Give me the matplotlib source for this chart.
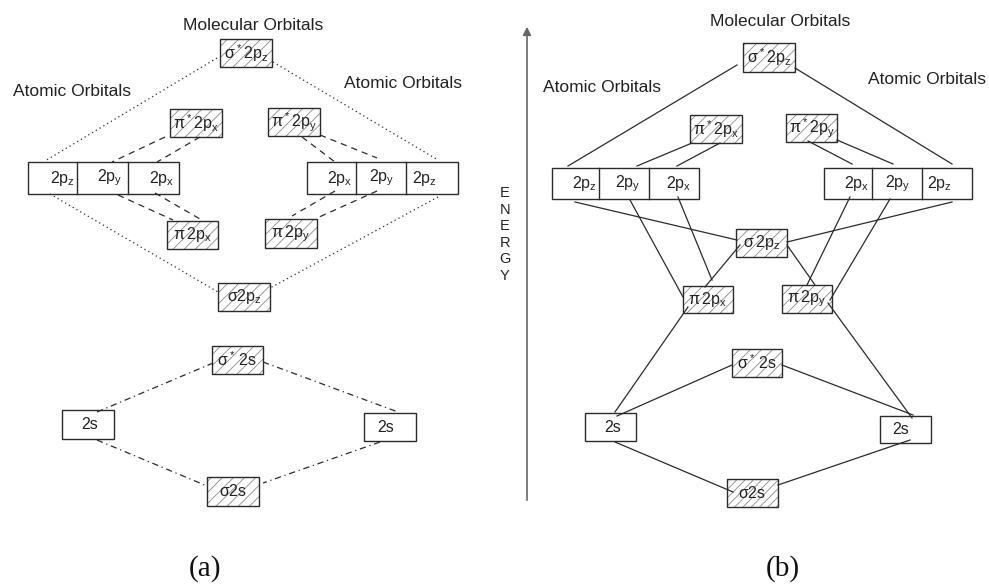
import matplotlib
matplotlib.use("Agg")
import matplotlib.pyplot as plt
from matplotlib.patches import Rectangle

plt.rcParams['font.family'] = ['Liberation Sans', 'DejaVu Sans']
plt.rcParams['mathtext.default'] = 'regular'
plt.rcParams['hatch.linewidth'] = 0.6

# etiquettes des orbitales
mo_labels_a = [r'$σ^*2p_z$', r'$π^*2p_x$', r'$π^*2p_y$', r'$π\,2p_x$', r'$π\,2p_y$',
               r'$σ2p_z$', r'$σ^*\,2s$', r'$σ2s$']
mo_labels_b = [r'$σ^*2p_z$', r'$π^*2p_x$', r'$π^*2p_y$', r'$σ\,2p_z$', r'$π\,2p_x$',
               r'$π\,2p_y$', r'$σ^*\,2s$', r'$σ2s$']
ao_left = [r'$2p_z$', r'$2p_y$', r'$2p_x$']
ao_right = [r'$2p_x$', r'$2p_y$', r'$2p_z$']
s_label = '2s'
titles = ['Molecular Orbitals', 'Atomic Orbitals', 'Atomic Orbitals']
panel_names = ['(a)', '(b)']
energy_word = 'ENERGY'

LC = '#2b2b2b'
FS = 11.5
TFS = 12.5

fig = plt.figure(figsize=(9.89, 5.86), dpi=100)
ax = fig.add_axes([0, 0, 1, 1])
ax.set_xlim(0, 989)
ax.set_ylim(586, 0)
ax.axis('off')


def box(x0, y0, x1, y1, label=None, hatch=None, lx=None, ly=None):
    if hatch:
        ax.add_patch(Rectangle((x0, y0), x1 - x0, y1 - y0, fill=False, hatch=hatch,
                               edgecolor='#8a8a8a', linewidth=0))
    ax.add_patch(Rectangle((x0, y0), x1 - x0, y1 - y0, fill=False,
                           edgecolor=LC, linewidth=1.0))
    if label:
        tx = (x0 + x1) / 2 if lx is None else lx
        ty = (y0 + y1) / 2 if ly is None else ly
        ax.text(tx, ty, label, ha='center', va='center', fontsize=FS, color='#222')


def seg(p, q, ls='-'):
    if ls == ':':
        ax.plot([p[0], q[0]], [p[1], q[1]], color=LC, lw=0.9, ls=(0, (1, 2.5)))
    elif ls == '--':
        ax.plot([p[0], q[0]], [p[1], q[1]], color=LC, lw=0.9, ls=(0, (5, 4)))
    elif ls == '-.':
        ax.plot([p[0], q[0]], [p[1], q[1]], color=LC, lw=0.9, ls=(0, (5, 3, 1, 3)))
    else:
        ax.plot([p[0], q[0]], [p[1], q[1]], color=LC, lw=0.9)


def three_cells(x0, x1, x2, x3, y0, y1, labels, lxs):
    ax.add_patch(Rectangle((x0, y0), x3 - x0, y1 - y0, fill=False, edgecolor=LC, lw=1.0))
    for xd in (x1, x2):
        ax.plot([xd, xd], [y0, y1], color=LC, lw=1.0)
    for lab, lx in zip(labels, lxs):
        ax.text(lx, (y0 + y1) / 2, lab, ha='center', va='center', fontsize=FS, color='#222')


# ---------------- (a) ----------------
seg((217, 58), (45, 161), ':')
seg((273, 62), (438, 160), ':')
seg((50, 194), (218, 292), ':')
seg((438, 197), (270, 288), ':')
seg((165, 137), (112, 162), '--')
seg((200, 137), (157, 162), '--')
seg((302, 137), (335, 162), '--')
seg((320, 135), (377, 158), '--')
seg((118, 195), (173, 220), '--')
seg((155, 193), (200, 219), '--')
seg((335, 191), (292, 216), '--')
seg((377, 191), (317, 218), '--')
seg((97, 412), (213, 363), '-.')
seg((263, 362), (398, 412), '-.')
seg((97, 440), (207, 486), '-.')
seg((380, 442), (263, 483), '-.')

box(220, 39, 272, 67, mo_labels_a[0], '///')
box(170, 109, 222, 137, mo_labels_a[1], '///')
box(268, 108, 320, 136, mo_labels_a[2], '///')
box(167, 221, 218, 249, mo_labels_a[3], '///')
box(265, 219, 317, 248, mo_labels_a[4], '///')
box(218, 283, 270, 311, mo_labels_a[5], '///')
box(212, 346, 263, 374, mo_labels_a[6], '///')
box(207, 477, 259, 506, mo_labels_a[7], '///')
box(62, 410, 114, 439, s_label, lx=90)
box(364, 413, 416, 441, s_label, lx=386)
three_cells(28, 77, 128, 179, 162, 194, ao_left, [63, 110, 162])
three_cells(307, 356, 406, 458, 162, 194, ao_right, [340, 382, 425])

ax.text(253, 25, titles[0], ha='center', va='center', fontsize=TFS, color='#222')
ax.text(72, 92, titles[1], ha='center', va='center', fontsize=TFS, color='#222')
ax.text(403, 84, titles[2], ha='center', va='center', fontsize=TFS, color='#222')
ax.text(205, 569, panel_names[0], ha='center', va='center', fontsize=21,
        family='Liberation Serif', color='#111')

# ---------------- (b) ----------------
ax.annotate('', xy=(527, 24), xytext=(527, 503),
            arrowprops=dict(arrowstyle='-|>', color='#666', lw=1.2, mutation_scale=12))
for i, ch in enumerate(energy_word):
    ax.text(505, 193 + i * 16.6, ch, ha='center', va='center', fontsize=10.5, color='#222')

seg((737, 65), (568, 166))
seg((795, 68), (952, 164))
seg((692, 143), (637, 166))
seg((720, 143), (677, 166))
seg((808, 141), (852, 164))
seg((837, 140), (893, 164))
seg((575, 202), (737, 240))
seg((952, 202), (787, 242))
seg((630, 200), (683, 297))
seg((678, 197), (712, 280))
seg((740, 245), (705, 287))
seg((787, 245), (815, 285))
seg((850, 197), (807, 285))
seg((890, 199), (830, 300))
seg((688, 307), (615, 412))
seg((828, 303), (912, 418))
seg((617, 416), (732, 365))
seg((782, 365), (913, 415))
seg((615, 442), (733, 492))
seg((778, 485), (910, 440))

box(743, 43, 795, 72, mo_labels_b[0], '///')
box(690, 115, 742, 143, mo_labels_b[1], '///')
box(786, 114, 837, 142, mo_labels_b[2], '///')
box(736, 229, 787, 257, mo_labels_b[3], '///')
box(683, 286, 733, 313, mo_labels_b[4], '///')
box(782, 285, 832, 313, mo_labels_b[5], '///')
box(732, 349, 782, 377, mo_labels_b[6], '///')
box(727, 479, 778, 507, mo_labels_b[7], '////')
box(585, 413, 636, 441, s_label, lx=613)
box(880, 416, 931, 443, s_label, lx=901)
three_cells(552, 599, 649, 699, 168, 199, ao_left, [585, 628, 679])
three_cells(824, 872, 922, 972, 168, 199, ao_right, [857, 898, 940])

ax.text(780, 22, titles[0], ha='center', va='center', fontsize=TFS, color='#222')
ax.text(602, 88, titles[1], ha='center', va='center', fontsize=TFS, color='#222')
ax.text(927, 80, titles[2], ha='center', va='center', fontsize=TFS, color='#222')
ax.text(783, 569, panel_names[1], ha='center', va='center', fontsize=21,
        family='Liberation Serif', color='#111')

fig.savefig('out.png', dpi=100)
